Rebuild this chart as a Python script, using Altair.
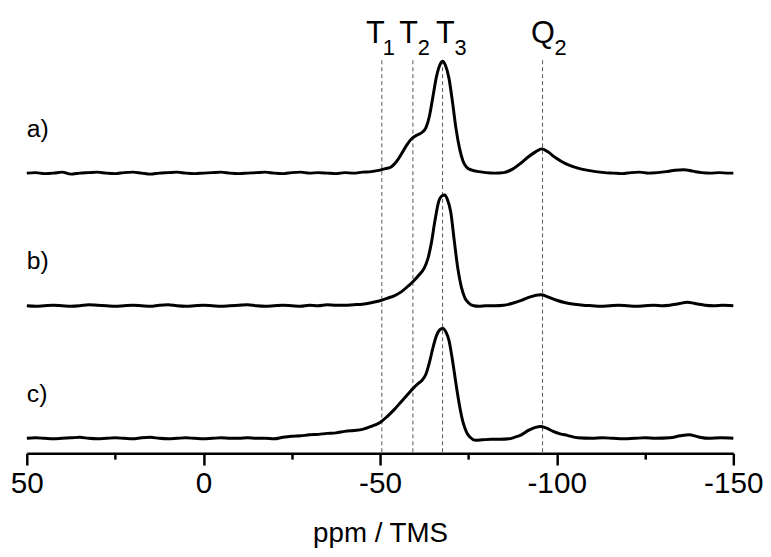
import altair as alt
import pandas as pd

# ---------------- data ----------------
# spectrum a)  (ppm, intensity)
a_ppm = [50, 47.5, 45, 42.5, 40, 37.5, 35, 32.5, 30, 27.5, 25, 22.5, 20, 17.5, 15, 12.5, 10, 7.5, 5, 2.5,
         0, -2.5, -5, -7.5, -10, -12.5, -15, -17.5, -20, -22.5, -25, -27.5, -30, -32.5, -35, -37.5, -40,
         -42.5, -45, -47.5, -50, -51.5, -53, -54.5, -56, -57.5, -59, -60.5, -62, -63, -64, -65, -66, -67,
         -67.7, -68.5, -69.5, -70.5, -71.5, -72.5, -73.5, -74.5, -76, -78, -80, -82.5, -85, -87.5, -90,
         -92, -94, -95.8, -97.5, -99.5, -101.5, -103.5, -106, -108.5, -111, -113.5, -116, -118.5, -121,
         -123.5, -126, -128.5, -131, -133.5, -136, -138.5, -141, -143.5, -146, -148.5, -150]
a_int = [0, 0.5, -0.5, 0, 1, -1, 0, 0.5, 1, 0, -0.5, 0.5, 1, 0, -1, 0, 0.5, 1, 0, -0.5,
         0, 0.5, 1, 0, -0.5, 0, 0.5, 1, 0, -0.5, 0.5, 1, 0, 0.5, 0, -0.5, 0.5,
         0, 1, 1.5, 3, 4.5, 6, 11, 19, 28, 35, 38.5, 41.5, 46, 58, 78, 98, 110,
         113, 109, 96, 72, 45, 25, 12, 6, 3, 1.5, 0.5, 0, 0.5, 4, 10.5,
         16.5, 21.5, 24.5, 21.5, 16, 11.5, 8, 5, 3, 1.5, 0.5, 0, -0.5, 0.5,
         1, 0, 0.5, 1.5, 3, 3.5, 2, 0.5, 0, 0.5, 0, 0]

# spectrum b)
b_ppm = [50, 47.5, 45, 42.5, 40, 37.5, 35, 32.5, 30, 27.5, 25, 22.5, 20, 17.5, 15, 12.5, 10, 7.5, 5, 2.5,
         0, -2.5, -5, -7.5, -10, -12.5, -15, -17.5, -20, -22.5, -25, -27.5, -30, -32.5, -35, -37.5, -40,
         -42.5, -45, -47.5, -50, -52, -54, -56, -58, -59.5, -61, -62.5, -63.5, -64.5, -65.5, -66.5, -67.5,
         -68.3, -69, -70, -71, -72, -73, -74, -75, -76.5, -78, -80, -82.5, -85, -87.5, -90, -92.5, -95.5,
         -97.5, -100, -102.5, -105, -107.5, -110, -112.5, -115, -117.5, -120, -122.5, -125, -127.5, -130,
         -132, -134.5, -137, -139.5, -142, -144.5, -147, -150]
b_int = [0, -0.5, 0, 0.5, 0, -0.5, 0, 1, 0.5, 0, -0.5, 0, 0.5, 0, -0.5, 0.5, 1, 0, -0.5, 0,
         0.5, 0, -0.5, 0, 0.5, 1, 0, -0.5, 0, 0.5, 0, -0.5, 0.5, 0, 1, 0.5, 0.5,
         1, 1.5, 3, 5, 7.5, 10, 14, 20, 25, 31, 38, 47, 63, 85, 104, 111,
         112, 108, 95, 66, 38, 19, 8, 3, 0, -0.5, 0, 0, 0.5, 2.5, 5.5, 9, 11,
         9, 5.5, 3, 1.5, 0.5, 0, -0.5, 0, 0.5, 0, -0.5, 0, 0.5, 0,
         0.5, 2, 3.5, 2, 0.5, 0, 0.5, 0]

# spectrum c)
c_ppm = [50, 47.5, 45, 42.5, 40, 37.5, 35, 32.5, 30, 27.5, 25, 22.5, 20, 17.5, 15, 12.5, 10, 7.5, 5, 2.5,
         0, -2.5, -5, -7.5, -10, -12.5, -15, -17.5, -20, -22.5, -25, -27.5, -30, -32.5, -35, -37.5, -40,
         -42.5, -45, -47.5, -50, -52, -54, -56, -58, -59.5, -61, -62, -63, -64, -65, -66, -67, -67.8,
         -68.7, -69.5, -70.5, -71.5, -72.5, -73.5, -74.5, -75.5, -77, -79, -81.5, -84, -86.5, -88, -90,
         -92, -94, -95.5, -97, -99, -101, -103, -106, -110, -113, -116, -119, -122, -125, -128, -132,
         -135, -137.5, -140, -143, -146.5, -150]
c_int = [0, 0.5, 0, -0.5, 0, 0.5, 1, 0, -0.5, 0, 0.5, 0, -0.5, 0.5, 1, 0, -0.5, 0, 0.5, 0,
         -0.5, 0, 0.5, 0, 0, 0.5, 0, 0, -0.5, 1, 2, 2.5, 3.5, 4, 5, 5.5, 7,
         8, 9, 12, 16, 22, 29, 37, 45, 51, 56, 59, 65, 77, 92, 104, 110, 111,
         107, 99, 79, 55, 33, 16, 6, 1, -2, -1.5, -1, -1, -0.5, 1, 3.5,
         8, 11, 12, 10.5, 7, 4.5, 3, 0.5, 0, 0.5, 0, -0.5, 0, 0.5, 0, 0.5,
         2.5, 3.5, 1.5, 0, 0.5, 0]

series_names = ["a)", "b)", "c)"]
series_offsets = [268, 134, 0]

# reference lines
ref_ppm = [-50.5, -59.3, -67.7, -96.0]
ref_top = 382
axis_bottom = -15

# peak labels (main letter and subscript)
lab_main = ["T", "T", "T", "Q"]
lab_main_ppm = [-48.7, -58.1, -68.5, -96.1]
lab_sub = ["1", "2", "3", "2"]
lab_sub_ppm = [-52.5, -62.4, -72.8, -101.1]
lab_main_y = 400
lab_sub_y = 387

major_ticks = [50, 25, 0, -25, -50, -75, -100, -125, -150]

# ---------------- tables ----------------
rows = []
for name, off, xs, ys in zip(series_names, series_offsets,
                             [a_ppm, b_ppm, c_ppm], [a_int, b_int, c_int]):
    for x, y in zip(xs, ys):
        rows.append({"series": name, "ppm": x, "y": y + off})
spec = pd.DataFrame(rows)

refs = pd.DataFrame({"ppm": ref_ppm, "y": [ref_top] * 4, "y2": [axis_bottom] * 4})
mains = pd.DataFrame({"ppm": lab_main_ppm, "y": [lab_main_y] * 4, "t": lab_main})
subs = pd.DataFrame({"ppm": lab_sub_ppm, "y": [lab_sub_y] * 4, "t": lab_sub})
names = pd.DataFrame({"ppm": [50] * 3, "y": [o + 45 for o in series_offsets], "t": series_names})

FONT = "Liberation Sans"

xscale = alt.Scale(domain=[50, -150], nice=False, zero=False)
yscale = alt.Scale(domain=[-15, 420], nice=False, zero=False)

xaxis = alt.Axis(
    values=major_ticks,
    title="ppm / TMS",
    grid=False,
    domainColor="black", domainWidth=2.5,
    tickColor="black", tickWidth=2.5,
    tickSize={"condition": {"test": "datum.value % 50 === 0", "value": 12}, "value": 6},
    labelExpr="datum.value % 50 === 0 ? toString(datum.value) : ''",
    labelFont=FONT, labelFontSize=30, labelColor="black", labelPadding=4,
    labelOverlap=False, labelFlush=False,
    titleFont=FONT, titleFontSize=28, titleFontWeight="normal", titleColor="black",
    titlePadding=21,
)

rules = alt.Chart(refs).mark_rule(color="#555555", strokeDash=[4, 3], strokeWidth=1).encode(
    x=alt.X("ppm:Q", scale=xscale, axis=xaxis),
    y=alt.Y("y:Q", scale=yscale, axis=None),
    y2="y2:Q",
)

lines = alt.Chart(spec).mark_line(color="black", strokeWidth=3, interpolate="monotone").encode(
    x=alt.X("ppm:Q", scale=xscale),
    y=alt.Y("y:Q", scale=yscale),
    detail="series:N",
)

main_txt = alt.Chart(mains).mark_text(font=FONT, fontSize=31, color="black",
                                       align="center", baseline="alphabetic").encode(
    x=alt.X("ppm:Q", scale=xscale), y=alt.Y("y:Q", scale=yscale), text="t:N")

sub_txt = alt.Chart(subs).mark_text(font=FONT, fontSize=22, color="black",
                                     align="center", baseline="alphabetic").encode(
    x=alt.X("ppm:Q", scale=xscale), y=alt.Y("y:Q", scale=yscale), text="t:N")

name_txt = alt.Chart(names).mark_text(font=FONT, fontSize=25, color="black",
                                       align="left", baseline="middle").encode(
    x=alt.X("ppm:Q", scale=xscale), y=alt.Y("y:Q", scale=yscale), text="t:N")

chart = alt.layer(rules, lines, main_txt, sub_txt, name_txt).properties(
    width=714, height=435,
    autosize=alt.AutoSizeParams(type="none"),
    padding={"left": 19, "top": 12, "right": 30, "bottom": 96},
).configure_view(stroke=None)

chart.save("out.html", embed_options={"renderer": "svg", "actions": False})
